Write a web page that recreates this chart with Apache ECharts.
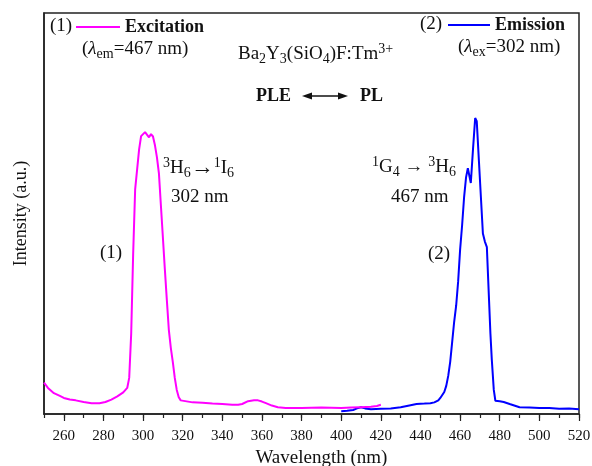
<!DOCTYPE html>
<html>
<head>
<meta charset="utf-8">
<script src="https://cdn.jsdelivr.net/npm/echarts@6/dist/echarts.min.js"></script>
<style>
  html, body { margin: 0; padding: 0; background: #fff; }
  #main { width: 592px; height: 466px; }
</style>
</head>
<body>
<div id="main"></div>
<script>
// excitation spectrum (1), lambda_em = 467 nm
const exWl = [250, 252, 255, 258, 260, 263, 266, 270, 274, 278, 281, 284, 287, 290, 292, 293,
  294, 295, 296, 297, 298, 299, 300, 301, 302, 303, 304, 305, 306, 307, 308, 309, 310, 311,
  312, 313, 314, 315, 316, 317, 318, 319, 320, 325, 330, 335, 340, 345, 348, 350, 353, 356,
  358, 360, 362, 365, 368, 372, 380, 390, 400, 405, 410, 415, 418, 420];
const exInt = [7.8, 6.5, 5.2, 4.5, 4.0, 3.6, 3.4, 3.0, 2.7, 2.7, 3.0, 3.6, 4.4, 5.4, 6.5, 9,
  20, 40, 56, 61, 66, 69.3, 69.8, 70.3, 70.0, 69.0, 69.8, 69.2, 67, 64, 60, 52, 44, 36,
  28.4, 21, 16.5, 13, 9, 6, 4.2, 3.4, 3.0, 2.9, 2.8, 2.6, 2.5, 2.3, 2.3, 2.5, 3.2, 3.4,
  3.4, 3.1, 2.7, 2.1, 1.7, 1.5, 1.5, 1.6, 1.5, 1.6, 1.7, 1.8, 2.0, 2.3];

// emission spectrum (2), lambda_ex = 302 nm
const emWl = [400, 403, 406, 408, 410, 412, 415, 420, 425, 430, 435, 438, 442, 445, 447, 449,
  450, 452, 453, 454, 455, 456, 457, 458, 459, 460, 461, 462, 463, 463.9, 465.4, 466.5,
  467.6, 468.4, 469.5, 470.5, 471.5, 472.5, 473.5, 474.6, 475.3, 476, 477, 477.8, 480, 482,
  485, 490, 495, 500, 505, 510, 515, 520];
const emInt = [0.7, 0.8, 1.0, 1.4, 1.7, 1.4, 1.2, 1.3, 1.4, 1.7, 2.2, 2.5, 2.6, 2.7, 2.9, 3.4,
  4.0, 5.5, 7, 9.5, 13, 18, 23, 27, 33, 41, 47, 54, 59, 61.3, 57.6, 66,
  73.8, 73, 63, 54, 45, 43, 41.6, 28.4, 20, 13.5, 6, 3.3, 3.2, 3.0,
  2.5, 1.7, 1.6, 1.5, 1.5, 1.3, 1.4, 1.2];

const xTicks = [260, 520, 20];   // labelled ticks: from, to, step
const F = 'Liberation Serif';
const INK = '#111';

const pairs = (xs, ys) => xs.map((x, i) => [x, ys[i]]);

const RICH = {
  n: { fontFamily: F, fontSize: 19, lineHeight: 24, fill: INK },
  i: { fontFamily: F, fontSize: 19, fontStyle: 'italic', lineHeight: 24, fill: INK },
  b: { fontFamily: F, fontSize: 18, fontWeight: 'bold', lineHeight: 24, fill: INK },
  ar: { fontFamily: F, fontSize: 23, lineHeight: 24, fill: INK },
  sb: { fontFamily: F, fontSize: 14, lineHeight: 10, verticalAlign: 'bottom', fill: INK },
  sp: { fontFamily: F, fontSize: 14, lineHeight: 12, verticalAlign: 'top', fill: INK }
};

function txt(x, y, text) {
  return {
    type: 'text', x: x, y: y, z: 10,
    style: { text: text, rich: RICH, fill: INK, fontFamily: F, fontSize: 19,
             align: 'left', verticalAlign: 'middle' }
  };
}

const axisLine = { show: true, lineStyle: { color: '#222', width: 1.5 } };
const legendText = { fontFamily: F, fontSize: 18, fontWeight: 'bold', color: INK };

let myChart = echarts.init(document.getElementById('main'));
let option = {
  animation: false,
  grid: [
    { left: 44, right: 13, top: 13, bottom: 52, outerBoundsMode: 'none',
      show: true, borderColor: '#222', borderWidth: 1.5 },
    { left: 44 + 10 * 535 / 270, right: 13, top: 13, bottom: 52, outerBoundsMode: 'none' }
  ],
  legend: [
    {
      data: ['Excitation'], left: 76, top: 18, padding: 0, icon: 'rect', itemWidth: 44, itemHeight: 2,
      selectedMode: false, textStyle: legendText
    },
    {
      data: ['Emission'], left: 448, top: 16, padding: 0, icon: 'rect', itemWidth: 42, itemHeight: 2,
      selectedMode: false, textStyle: legendText
    }
  ],
  xAxis: [
    {
      gridIndex: 0, type: 'value', min: 250, max: 520, interval: 10,
      axisLine: axisLine,
      axisTick: { show: true, inside: false, length: 4, lineStyle: { color: '#222', width: 1.2 } },
      axisLabel: { show: false }, splitLine: { show: false }
    },
    {
      gridIndex: 1, type: 'value', min: xTicks[0], max: xTicks[1], interval: xTicks[2],
      axisLine: { show: false },
      axisTick: { show: true, inside: false, length: 7, lineStyle: { color: '#222', width: 1.2 } },
      axisLabel: { margin: 15, fontFamily: F, fontSize: 15, color: INK },
      splitLine: { show: false },
      name: 'Wavelength (nm)', nameLocation: 'middle', nameGap: 34,
      nameTextStyle: { fontFamily: F, fontSize: 19, color: INK }
    }
  ],
  yAxis: [
    {
      gridIndex: 0, type: 'value', min: 0, max: 100,
      axisLine: axisLine, axisTick: { show: false }, axisLabel: { show: false },
      splitLine: { show: false },
      name: 'Intensity (a.u.)', nameLocation: 'middle', nameGap: 14,
      nameTextStyle: { fontFamily: F, fontSize: 18, color: INK }
    },
    { gridIndex: 1, type: 'value', min: 0, max: 100, show: false }
  ],
  series: [
    {
      name: 'Excitation', type: 'line', xAxisIndex: 0, yAxisIndex: 0,
      data: pairs(exWl, exInt), symbol: 'none', z: 3,
      lineStyle: { color: '#ff00ff', width: 2 }, itemStyle: { color: '#ff00ff' }
    },
    {
      name: 'Emission', type: 'line', xAxisIndex: 0, yAxisIndex: 0,
      data: pairs(emWl, emInt), symbol: 'none', z: 2,
      lineStyle: { color: '#0000ff', width: 2 }, itemStyle: { color: '#0000ff' }
    }
  ],
  graphic: [
    txt(50, 26, '{n|(1)}'),
    txt(82, 49, '{n|(}{i|λ}{sb|em}{n|=467 nm)}'),
    txt(238, 54, '{n|Ba}{sb|2}{n|Y}{sb|3}{n|(SiO}{sb|4}{n|)F:Tm}{sp|3+}'),
    txt(420, 24, '{n|(2)}'),
    txt(458, 47, '{n|(}{i|λ}{sb|ex}{n|=302 nm)}'),
    txt(256, 96, '{b|PLE}'),
    txt(360, 96, '{b|PL}'),
    { type: 'line', shape: { x1: 305, y1: 96, x2: 345, y2: 96 }, style: { stroke: INK, lineWidth: 1.5 } },
    { type: 'polygon', shape: { points: [[302, 96], [312, 92.5], [312, 99.5]] }, style: { fill: INK } },
    { type: 'polygon', shape: { points: [[348, 96], [338, 92.5], [338, 99.5]] }, style: { fill: INK } },
    txt(163, 168, '{sp|3}{n|H}{sb|6}{ar|→}{sp|1}{n|I}{sb|6}'),
    txt(171, 197, '{n|302 nm}'),
    txt(100, 253, '{n|(1)}'),
    txt(372, 167, '{sp|1}{n|G}{sb|4}{n| → }{sp|3}{n|H}{sb|6}'),
    txt(391, 197, '{n|467 nm}'),
    txt(428, 254, '{n|(2)}')
  ]
};
myChart.setOption(option);
</script>
</body>
</html>
